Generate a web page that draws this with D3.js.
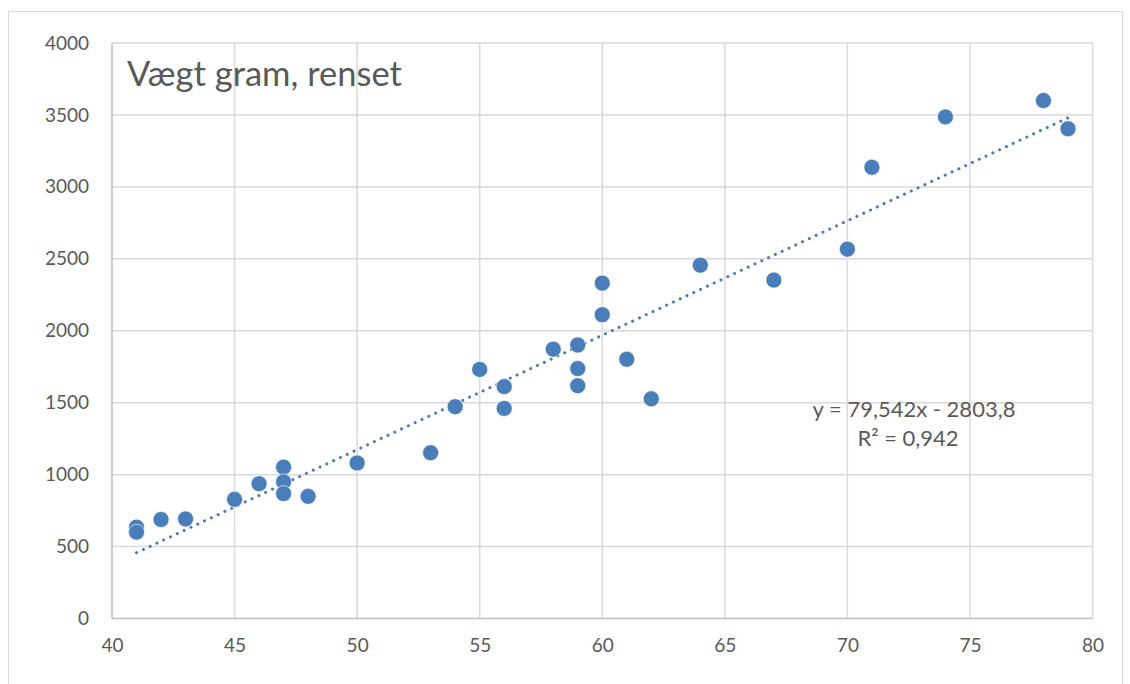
<!DOCTYPE html>
<meta charset="utf-8">
<style>
    body { margin: 0; background: #fff; }
    .grid line { stroke: #d9d9d9; stroke-width: 1.5px; }
    .axis text { fill: #595959; font-family: Lato, "Open Sans", sans-serif; font-size: 19px; }
</style>
<svg width="1130" height="684"></svg>
<script src="https://d3js.org/d3.v7.min.js"></script>
<script>

    // length (cm) vs. cleaned weight (gram)
    var lengths = [41, 41, 42, 43, 45, 46, 47, 47, 47, 48, 50, 53, 54, 55, 56, 56, 58, 59, 59, 59,
                   60, 60, 61, 62, 64, 67, 70, 71, 74, 78, 79];
    var weights = [635, 600, 688, 692, 828, 937, 1052, 950, 868, 849, 1081, 1152, 1472, 1731, 1612, 1460, 1872, 1901, 1737, 1618,
                   2331, 2111, 1802, 1527, 2456, 2352, 2567, 3136, 3486, 3600, 3404];
    var xTicks = [40, 45, 50, 55, 60, 65, 70, 75, 80];
    var yTicks = [0, 500, 1000, 1500, 2000, 2500, 3000, 3500, 4000];
    var slope = 79.542, intercept = -2803.8, r2 = "0,942";

    var svg = d3.select("svg");
    var blue = "#4a7ebb";

    svg.append("rect")
        .attr("x", 8.5).attr("y", 11.5)
        .attr("width", 1114).attr("height", 700)
        .attr("fill", "none")
        .attr("stroke", "#d9d9d9");

    var x = d3.scaleLinear().domain([40, 80]).range([112, 1092.5]);
    var y = d3.scaleLinear().domain([0, 4000]).range([618.5, 43]);

    var grid = svg.append("g").attr("class", "grid");
    grid.selectAll(".v").data(xTicks.slice(1)).enter().append("line")
        .attr("x1", function (d) { return x(d); }).attr("x2", function (d) { return x(d); })
        .attr("y1", y(4000)).attr("y2", y(0));
    grid.selectAll(".h").data(yTicks.slice(1)).enter().append("line")
        .attr("x1", x(40)).attr("x2", x(80))
        .attr("y1", function (d) { return y(d); }).attr("y2", function (d) { return y(d); });

    // axis lines
    svg.append("line").attr("x1", x(40)).attr("x2", x(80)).attr("y1", y(0)).attr("y2", y(0))
        .attr("stroke", "#bfbfbf").attr("stroke-width", 1.5);
    svg.append("line").attr("x1", x(40)).attr("x2", x(40)).attr("y1", y(0)).attr("y2", y(4000))
        .attr("stroke", "#bfbfbf").attr("stroke-width", 1.5);

    var xAxis = svg.append("g").attr("class", "axis")
        .attr("transform", "translate(0," + y(0) + ")")
        .call(d3.axisBottom(x).tickValues(xTicks).tickSize(0).tickPadding(20).tickFormat(d3.format("d")));
    xAxis.select(".domain").remove();

    var yAxis = svg.append("g").attr("class", "axis")
        .attr("transform", "translate(" + x(40) + ",0)")
        .call(d3.axisLeft(y).tickValues(yTicks).tickSize(0).tickPadding(23).tickFormat(d3.format("d")));
    yAxis.select(".domain").remove();

    // trendline
    var x0 = d3.min(lengths), x1 = d3.max(lengths);
    svg.append("line")
        .attr("x1", x(x0)).attr("y1", y(slope * x0 + intercept))
        .attr("x2", x(x1)).attr("y2", y(slope * x1 + intercept))
        .attr("stroke", blue)
        .attr("stroke-width", 3)
        .attr("stroke-linecap", "round")
        .attr("stroke-dasharray", "0.1 7.4");

    svg.append("g").selectAll("circle")
        .data(d3.zip(lengths, weights))
        .enter().append("circle")
        .attr("cx", function (d) { return x(d[0]); })
        .attr("cy", function (d) { return y(d[1]); })
        .attr("r", 8)
        .attr("fill", blue)
        .attr("stroke", "#fff")
        .attr("stroke-width", 0.6);

    svg.append("text")
        .attr("x", 127).attr("y", 86)
        .attr("fill", "#595959")
        .style("font-family", "Lato, 'Open Sans', sans-serif")
        .style("font-size", "34.5px")
        .text("Vægt gram, renset");

    var eq = svg.append("g")
        .attr("fill", "#595959")
        .style("font-family", "Lato, 'Open Sans', sans-serif")
        .style("font-size", "22px")
        .attr("text-anchor", "middle");
    eq.append("text").attr("x", 914).attr("y", 417)
        .text("y = " + String(slope).replace(".", ",") + "x - " + String(-intercept).replace(".", ","));
    eq.append("text").attr("x", 908).attr("y", 446)
        .text("R² = " + r2);

</script>
